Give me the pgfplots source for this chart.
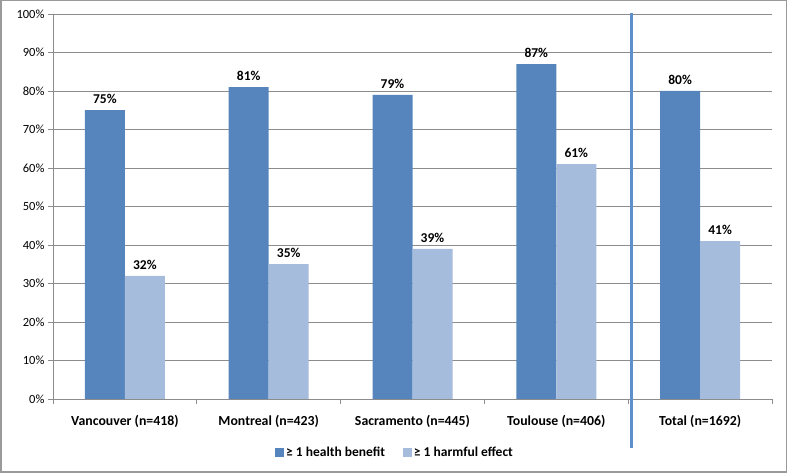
\documentclass[border=0pt]{standalone}
\usepackage{pgfplots}
\pgfplotsset{compat=1.18}
\usepackage{fontspec}
\setmainfont{Carlito}
\definecolor{darkb}{HTML}{5585BC}
\definecolor{lightb}{HTML}{A6BCDC}
\definecolor{sepb}{HTML}{5E8FC9}
\definecolor{gridg}{HTML}{8C8C8C}
\definecolor{borderg}{HTML}{9A9A9A}
\begin{document}
\begin{tikzpicture}[x=1pt,y=1pt]
\draw[borderg,line width=1.5pt] (0.75,0.75) rectangle (786.25,472.25);
\begin{axis}[
  at={(53pt,74pt)}, anchor=south west,
  scale only axis, width=719pt, height=385pt,
  xmin=-0.5, xmax=4.5, ymin=0, ymax=100,
  ybar=0pt, bar width=40pt,
  axis x line*=bottom, axis y line*=left,
  axis line style={gridg,line width=0.8pt},
  xtick={0,1,2,3,4},
  xticklabels={Vancouver (n=418),Montreal (n=423),Sacramento (n=445),Toulouse (n=406),Total (n=1692)},
  x tick label style={font=\fontsize{13.8}{16}\selectfont\bfseries, yshift=-8pt},
  major x tick style={draw=none},
  minor xtick={-0.5,0.5,1.5,2.5,3.5,4.5},
  minor x tick style={gridg,line width=0.8pt},
  minor tick length=5pt,
  ytick={0,10,...,100},
  yticklabel={\pgfmathparse{\tick}\pgfmathprintnumber[fixed,precision=0]{\pgfmathresult}\%},
  y tick label style={font=\fontsize{12.5}{14}\selectfont, /pgf/number format/assume math mode=true},
  ytick style={gridg,line width=0.8pt},
  major tick length=5pt,
  tick align=outside,
  ymajorgrids, grid style={gridg,line width=0.8pt},
  nodes near coords={\pgfmathprintnumber[fixed,precision=0,assume math mode=true]{\pgfplotspointmeta}\%},
  every node near coord/.append style={font=\fontsize{13.5}{15}\selectfont\bfseries, black, yshift=3pt},
  legend style={at={(342pt,-54pt)}, anchor=center, draw=none, legend columns=2,
    font=\fontsize{13.5}{15}\selectfont\bfseries,
    /tikz/every even column/.append style={column sep=16pt}},
  legend image code/.code={\fill[#1] (0pt,-4.5pt) rectangle (9pt,4.5pt);},
  clip=false,
]
\addplot[fill=darkb, draw=none] coordinates {(0,75) (1,81) (2,79) (3,87) (4,80)};
\addplot[fill=lightb, draw=none] coordinates {(0,32) (1,35) (2,39) (3,61) (4,41)};
\legend{≥ 1 health benefit, ≥ 1 harmful effect}
\end{axis}
\draw[sepb,line width=3pt] (631,25) -- (631,460);
\end{tikzpicture}
\end{document}
